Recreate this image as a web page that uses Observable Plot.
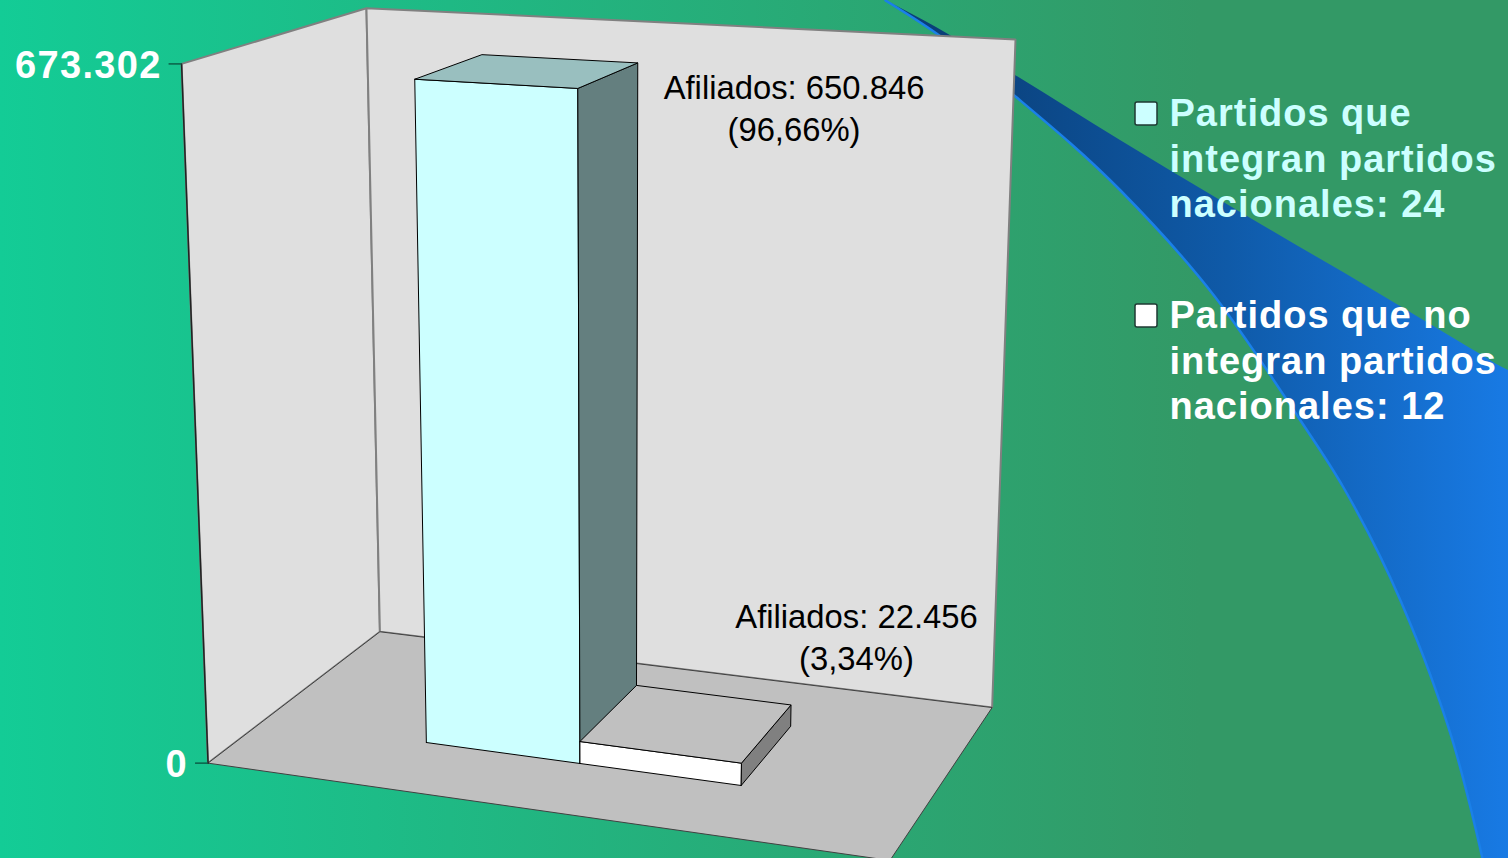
<!DOCTYPE html>
<html>
<head>
<meta charset="utf-8">
<script src="https://cdn.jsdelivr.net/npm/d3@7"></script>
<script src="https://cdn.jsdelivr.net/npm/@observablehq/plot@0.6"></script>
<style>
html,body{margin:0;padding:0;width:1508px;height:858px;overflow:hidden;
  background:linear-gradient(90deg,#13cc96 0,#339966 1200px);}
svg{display:block;background:transparent!important;}
.bold-label text{letter-spacing:1px;}
.axis-label text{letter-spacing:1.3px;}
</style>
</head>
<body>
<div id="chart"></div>
<script>
// ---- data ----
const legendLabels = ["Partidos que\nintegran partidos\nnacionales: 24", "Partidos que no\nintegran partidos\nnacionales: 12"];
const afiliados = [650846, 22456];
const shares = ["96,66%", "3,34%"];
const axisValues = [0, 673302];
const axisLabels = ["0", "673.302"];
// decorative swoosh of the slide background
const swooshX      = [885, 936, 1015, 1120, 1215, 1298, 1343, 1400, 1430, 1455, 1470, 1482, 1500, 1508];
const swooshTop    = [0, 27, 75, 140, 197, 246, 272, 306, 324, 339, 348, 355, 366, 370];
const swooshBottom = [0, 33, 96, 190, 297, 417, 487, 600, 675, 750, 807, 858, 945, 985];

// ---- 3D box projection calibrated on the corners of the chart box ----
// (u: left-right, v: value, w: front-back), all in 0..1
const calib = [
  [0,0,0,208,763],[0,0,1,379,631],[1,0,1,992,707],[1,0,0,889,860],
  [0,1,0,181,63],[0,1,1,366,8],[1,1,1,1015,39]
];
function solve(A,b){
  const n=A.length, M=A.map((r,i)=>[...r,b[i]]);
  for(let i=0;i<n;i++){
    let p=i; for(let r=i+1;r<n;r++) if(Math.abs(M[r][i])>Math.abs(M[p][i])) p=r;
    [M[i],M[p]]=[M[p],M[i]];
    for(let r=0;r<n;r++) if(r!==i){
      const f=M[r][i]/M[i][i];
      for(let c=i;c<=n;c++) M[r][c]-=f*M[i][c];
    }
  }
  return M.map((r,i)=>r[n]/r[i]);
}
const rows=[],rhs=[];
for(const [u,v,w,x,y] of calib){
  rows.push([u,v,w,1,0,0,0,0,-x*u,-x*v,-x*w]); rhs.push(x);
  rows.push([0,0,0,0,u,v,w,1,-y*u,-y*v,-y*w]); rhs.push(y);
}
const AtA=Array.from({length:11},(_,i)=>Array.from({length:11},(_,j)=>d3.sum(rows,r=>r[i]*r[j])));
const Atb=Array.from({length:11},(_,i)=>d3.sum(rows,(r,k)=>r[i]*rhs[k]));
const m=solve(AtA,Atb);
const project=(u,v,w)=>{
  const d=m[8]*u+m[9]*v+m[10]*w+1;
  return {x:(m[0]*u+m[1]*v+m[2]*w+m[3])/d, y:(m[4]*u+m[5]*v+m[6]*w+m[7])/d};
};
const maxV=axisValues[1];
const poly=(pts)=>{const p=pts.map(q=>project(...q));p.push(p[0]);return p;};
const face=(pts,fill,stroke,strokeWidth=1)=>Plot.line(poly(pts),{x:"x",y:"y",fill,stroke,strokeWidth,strokeLinejoin:"miter"});

function bar(u0,u1,w0,w1,value,cols){
  const t=value/maxV;
  return [
    face([[u0,0,w0],[u1,0,w0],[u1,t,w0],[u0,t,w0]],cols.front,"#000"),
    face([[u1,0,w0],[u1,0,w1],[u1,t,w1],[u1,t,w0]],cols.side,"#000"),
    face([[u0,t,w0],[u1,t,w0],[u1,t,w1],[u0,t,w1]],cols.top,"#000")
  ];
}
const fmt=d3.formatLocale({decimal:",",thousands:".",grouping:[3],currency:["",""]}).format(",d");
const barLabels=afiliados.map((a,i)=>({text:`Afiliados: ${fmt(a)}\n(${shares[i]})`,x:[793.5,856][i],y:[106,635][i]}));
const swoosh=swooshX.map((x,i)=>({x,y1:swooshTop[i],y2:swooshBottom[i]}));
const legend=legendLabels.map((text,i)=>({text,y:[156.5,358.5][i],top:[102,304][i],fill:["#CCFFFF","#FFFFFF"][i]}));
const ticks=axisValues.map((v,i)=>{const p=project(0,v/maxV,0);return{x:p.x,y:p.y,label:axisLabels[i]};});
const font="Liberation Sans";

const chart=Plot.plot({
  width:1508,height:858,margin:0,
  style:{background:"transparent"},
  x:{domain:[0,1508],range:[0,1508],axis:null},
  y:{domain:[0,858],range:[0,858],axis:null},
  marks:[
    ()=>{
      const defs=d3.create("svg:defs");
      const g=defs.append("linearGradient").attr("id","swooshFill").attr("x1",0).attr("x2",1).attr("y1",0).attr("y2",0);
      g.append("stop").attr("offset",0.1).attr("stop-color","#0a3f78");
      g.append("stop").attr("offset",0.55).attr("stop-color","#0f5aa8");
      g.append("stop").attr("offset",1).attr("stop-color","#187ae4");
      return defs.node();
    },
    Plot.areaY(swoosh,{x:"x",y1:"y1",y2:"y2",fill:"url(#swooshFill)",curve:"monotone-x",clip:true}),
    Plot.line(swoosh,{x:"x",y:"y2",stroke:"#1a80e8",strokeWidth:2.5,curve:"monotone-x",clip:true}),
    // walls and floor
    face([[0,0,0],[0,1,0],[0,1,1],[0,0,1]],"#dfdfdf","#808080",2),
    face([[0,0,1],[0,1,1],[1,1,1],[1,0,1]],"#dfdfdf","#808080",2),
    face([[0,0,0],[0,0,1],[1,0,1],[1,0,0]],"#c0c0c0","#404040",1),
    Plot.line(poly([[0,0,0],[0,1,0]]).slice(0,2),{x:"x",y:"y",stroke:"#222",strokeWidth:1.5}),
    // bars
    ...bar(0.261,0.4987,0.30,0.705,afiliados[0],{front:"#CCFFFF",side:"#647f7f",top:"#99bfbf"}),
    ...bar(0.4987,0.739,0.30,0.705,afiliados[1],{front:"#FFFFFF",side:"#808080",top:"#c0c0c0"}),
    // value axis
    Plot.link(ticks,{x1:d=>d.x-13,x2:"x",y1:"y",y2:"y",stroke:"#0b5f48",strokeWidth:1.5}),
    Plot.text(ticks,{x:d=>d.x-20,y:d=>d.y+1.5,text:"label",textAnchor:"end",fontFamily:font,fontWeight:"bold",fontSize:38,fill:"#fff",className:"axis-label"}),
    // labels
    Plot.text(barLabels,{x:"x",y:"y",text:"text",lineHeight:42/32.8,fontFamily:font,fontSize:32.8,fill:"#000"}),
    // legend
    Plot.rect(legend,{x1:()=>1135,x2:()=>1157,y1:"top",y2:d=>d.top+23,fill:"fill",stroke:"#1f3a33",strokeWidth:1.5,rx:2}),
    Plot.text(legend,{x:()=>1169,y:"y",text:"text",textAnchor:"start",lineHeight:45.3/38,fontFamily:font,fontWeight:"bold",fontSize:38,fill:"fill",className:"bold-label"})
  ],
  color:{type:"identity"}
});
document.getElementById("chart").appendChild(chart);
</script>
</body>
</html>
